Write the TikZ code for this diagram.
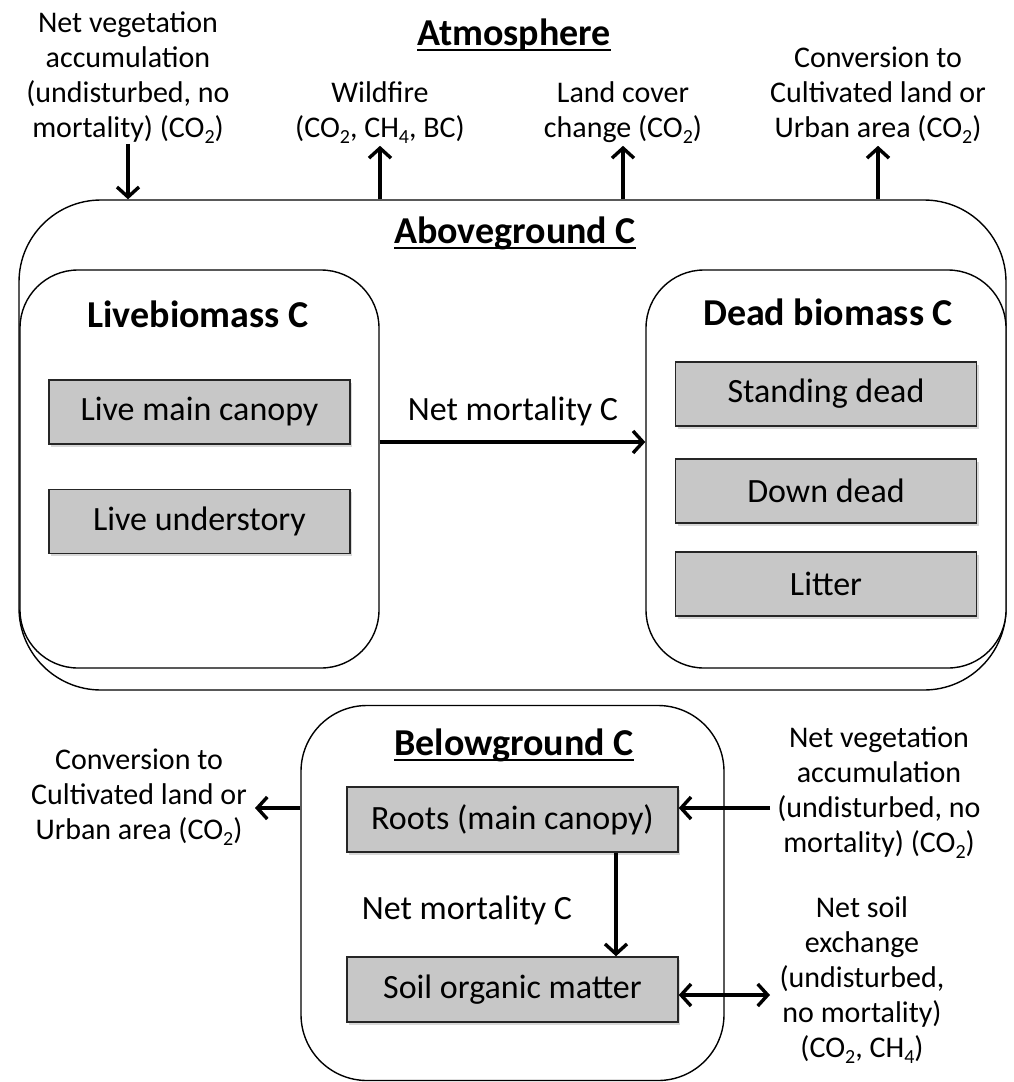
\documentclass[tikz,border=0pt]{standalone}
\usepackage{fontspec}
\setmainfont{Carlito}
\usetikzlibrary{arrows.meta,shadows}
\newcommand\myul[1]{\setbox0\hbox{#1}\rlap{\rule[-6pt]{\wd0}{2pt}}\box0}
\newcommand\subx[1]{\raisebox{-0.22em}{\fontsize{20}{20}\selectfont #1}}
\begin{document}
\begin{tikzpicture}[x=1pt,y=-1pt,
  lbl/.style={font=\fontsize{30}{35}\selectfont, align=center, inner sep=0pt, anchor=base},
  ttl/.style={font=\fontsize{38}{45}\selectfont\bfseries, inner sep=0pt, anchor=base},
  rbox/.style={draw, line width=1.4pt, fill=white},
  gbox/.style={draw=black!85, line width=1.5pt, fill={rgb,255:red,199;green,199;blue,199},
    minimum width=301pt, minimum height=64pt, inner sep=0pt,
    font=\fontsize{34}{40}\selectfont,
    drop shadow={shadow xshift=2pt, shadow yshift=-2.5pt, opacity=0.3}},
  arr/.style={line width=3.4pt, -{Straight Barb[length=10pt,width=22pt]}},
  darr/.style={line width=3.4pt, {Straight Barb[length=10pt,width=22pt]}-{Straight Barb[length=10pt,width=22pt]}},
]
\useasboundingbox (0,0) rectangle (1014,1082);

% containers
\node[rbox, rounded corners=82pt, minimum width=987pt, minimum height=490pt] (above) at (512.5,445) {};
\node[rbox, rounded corners=58pt, minimum width=359pt, minimum height=398pt] (live) at (199.5,469) {};
\node[rbox, rounded corners=58pt, minimum width=360pt, minimum height=398pt] (dead) at (826,469) {};
\node[rbox, rounded corners=66pt, minimum width=423pt, minimum height=375pt] (below) at (512.5,893) {};

% titles
\node[ttl] (atm) at (514,45) {\myul{Atmosphere}};
\node[ttl] (agc) at (515,243) {\myul{Aboveground C}};
\node[ttl] (lbc) at (198,327) {Livebiomass C};
\node[ttl] (dbc) at (828,325) {Dead biomass C};
\node[ttl] (bgc) at (514,755) {\myul{Belowground C}};

% gray boxes
\node[gbox] (lmc) at (199.5,412) {Live main canopy};
\node[gbox] (lu) at (199.5,521.5) {Live understory};
\node[gbox] (sd) at (826,394) {Standing dead};
\node[gbox] (dd) at (826,491) {Down dead};
\node[gbox] (lit) at (826,584) {Litter};
\node[gbox, minimum width=331pt, minimum height=65pt] (roots) at (512.5,819.5) {Roots (main canopy)};
\node[gbox, minimum width=331pt, minimum height=65pt] (soil) at (512.5,989.5) {Soil organic matter};

% labels (anchor = baseline of last line)
\node[lbl] (nva1) at (128,137) {Net vegetation\\accumulation\\(undisturbed, no\\mortality) (CO\subx{2})};
\node[lbl] (wf) at (380,137) {Wildfire\\(CO\subx{2}, CH\subx{4}, BC)};
\node[lbl] (lcc) at (623,137) {Land cover\\change (CO\subx{2})};
\node[lbl] (conv1) at (878,137) {Conversion to\\Cultivated land or\\Urban area (CO\subx{2})};
\node[lbl] (conv2) at (139,839) {Conversion to\\Cultivated land or\\Urban area (CO\subx{2})};
\node[lbl] (nva2) at (879,852) {Net vegetation\\accumulation\\(undisturbed, no\\mortality) (CO\subx{2})};
\node[lbl] (nse) at (862,1057) {Net soil\\exchange\\(undisturbed,\\no mortality)\\(CO\subx{2}, CH\subx{4})};
\node[lbl, font=\fontsize{34}{40}\selectfont] (nm1) at (513,420) {Net mortality C};
\node[lbl, font=\fontsize{34}{40}\selectfont] (nm2) at (467,919) {Net mortality C};

% connectors
\draw[arr] (nva1.south) -- (nva1.south |- above.north);
\draw[arr, shorten >=2pt] (wf.south |- above.north) -- (wf.south);
\draw[arr, shorten >=2pt] (lcc.south |- above.north) -- (lcc.south);
\draw[arr, shorten >=2pt] (conv1.south |- above.north) -- (conv1.south);
\draw[arr] ([yshift=27pt]live.east) -- ([yshift=27pt]dead.west);
\draw[arr] ([xshift=103.5pt]roots.south) -- ([xshift=103.5pt]soil.north);
\coordinate (cL) at (255,808);
\coordinate (cR) at (770,808);
\coordinate (cS) at (770,995);
\draw[arr] (below.west |- cL) -- (cL);
\draw[arr] (cR) -- (roots.east |- cR);
\draw[darr] (soil.east |- cS) -- (cS);
\end{tikzpicture}
\end{document}
